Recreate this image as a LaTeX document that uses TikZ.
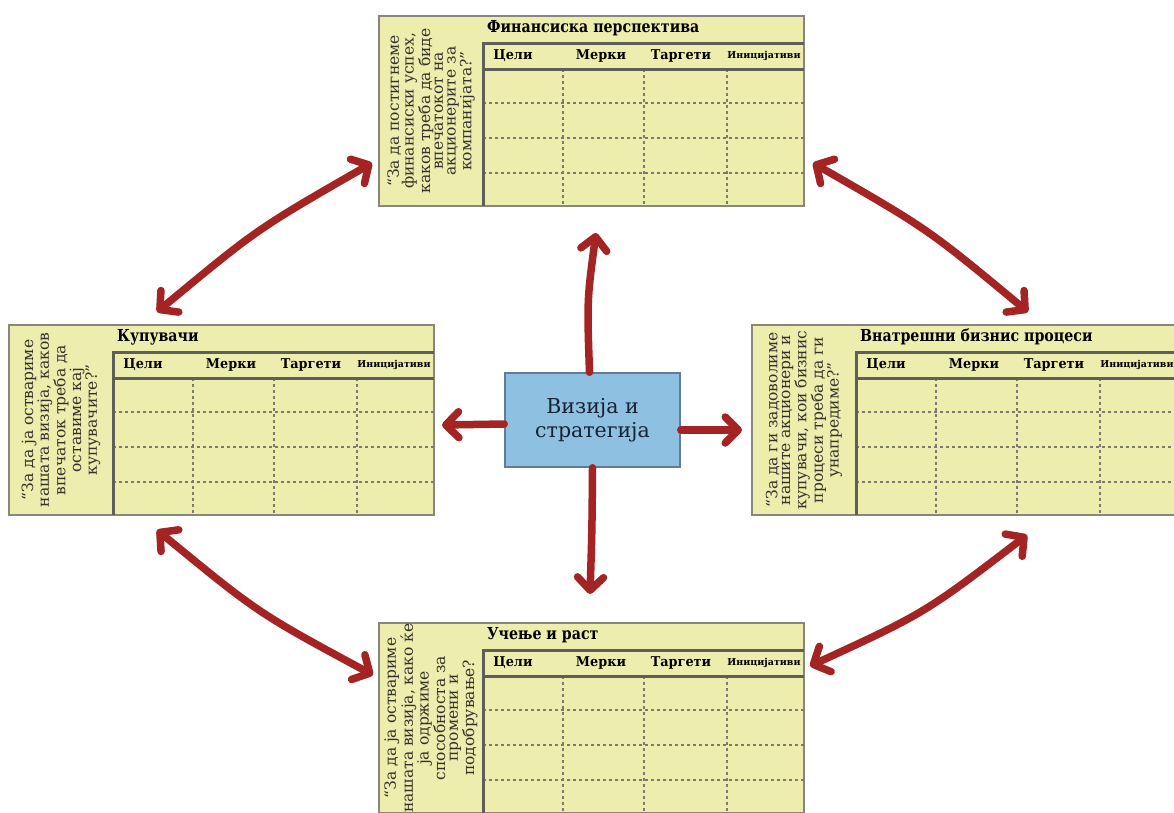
\documentclass[tikz,border=0pt]{standalone}
\usepackage{fontspec}
\setmainfont{DejaVu Serif}
\usetikzlibrary{arrows.meta}
\definecolor{boxfill}{RGB}{237,237,174}
\definecolor{boxedge}{RGB}{135,135,124}
\definecolor{tabedge}{RGB}{95,95,90}
\definecolor{dashgray}{RGB}{122,122,112}
\definecolor{questcol}{RGB}{50,50,44}
\definecolor{arrowred}{RGB}{163,36,34}
\definecolor{visfill}{RGB}{142,192,226}
\definecolor{visedge}{RGB}{96,124,150}
\definecolor{vistext}{RGB}{22,34,48}
\tikzset{
  pbox/.style={draw=boxedge, fill=boxfill, line width=2.5pt, minimum width=425pt, minimum height=190pt, inner sep=0pt, outer sep=0pt},
  tline/.style={draw=tabedge, line width=3pt},
  dline/.style={draw=dashgray, line width=2.6pt, dash pattern=on 3pt off 3pt},
  ptitle/.style={anchor=west, font=\bfseries\fontsize{16.5}{18}\selectfont, inner sep=0pt, xscale=0.86},
  hdr/.style={font=\bfseries\fontsize{13.5}{15}\selectfont, inner sep=0pt, xscale=0.95},
  hdrsmall/.style={font=\bfseries\fontsize{9.5}{11}\selectfont, inner sep=0pt},
  quest/.style={rotate=90, align=center, font=\fontsize{15.5}{12.7}\selectfont, text=questcol, inner sep=0pt},
  vis/.style={draw=visedge, fill=visfill, line width=1.5pt, minimum width=175pt, minimum height=94pt, align=center, text=vistext, font=\fontsize{20.5}{24}\selectfont},
  twoway/.style={draw=arrowred, line width=7.5pt, line cap=round, {Straight Barb[length=13pt,width=28pt,round]}-{Straight Barb[length=13pt,width=28pt,round]}},
  oneway/.style={draw=arrowred, line width=7.5pt, line cap=round, -{Straight Barb[length=13pt,width=26pt,round]}}
}
\newcommand{\perspbox}[5]{%
  \begin{scope}[shift={(#2,#3)}]
    \node[pbox] (#1) at (212.5,95) {};
    \foreach \yy in {87,122,157} \draw[dline] (104,\yy) -- (425,\yy);
    \foreach \xx in {184,265,348} \draw[dline] (\xx,53) -- (\xx,190);
    \draw[tline] (104,190) -- (104,27) -- (425,27);
    \draw[tline] (104,53) -- (425,53);
    \node[ptitle] (#1-t) at (108,12) {#4};
    \node[hdr] (#1-h1) at (134,40) {Цели};
    \node[hdr] (#1-h2) at (222,40) {Мерки};
    \node[hdr] (#1-h3) at (302,40) {Таргети};
    \node[hdrsmall] (#1-h4) at (385,40) {Иницијативи};
    \node[quest] (#1-q) at (52,95) {#5};
  \end{scope}}
\begin{document}
\begin{tikzpicture}[x=1pt,y=-1pt]
  \useasboundingbox (0,0) rectangle (1174,812);
  \fill[white] (0,0) rectangle (1174,812);
  \clip (0,0) rectangle (1174,812);

  \perspbox{fin}{379}{16}{Финансиска перспектива}{“За да постигнеме\\финансиски успех,\\каков треба да биде\\впечатокот на\\акционерите за\\компанијата?”}
  \perspbox{cust}{9}{325}{Купувачи}{“За да ја оствариме\\нашата визија, каков\\впечаток треба да\\оставиме кај\\купувачите?”}
  \perspbox{proc}{752}{325}{Внатрешни бизнис процеси}{“За да ги задоволиме\\нашите акционери и\\купувачи, кои бизнис\\процеси треба да ги\\унапредиме?”}
  \perspbox{learn}{379}{623}{Учење и раст}{“За да ја оствариме\\нашата визија, како ќе\\ја одржиме\\способноста за\\промени и\\подобрување?}

  \node[vis] (vis) at (592.5,420) {Визија и\\стратегија};

  % free ends of the connectors
  \coordinate (tlA) at (157,312);
  \coordinate (tlB) at (372,163);
  \coordinate (trA) at (813,163);
  \coordinate (trB) at (1028,312);
  \coordinate (brA) at (1027,535);
  \coordinate (brB) at (810,666);
  \coordinate (blA) at (373,675);
  \coordinate (blB) at (157,530);
  \coordinate (upTip) at (596,233);
  \coordinate (downTip) at (590,594);
  \coordinate (leftTip) at (442,425);
  \coordinate (rightTip) at (742,430);

  \draw[twoway] (tlA) .. controls (257,229) .. (tlB);
  \draw[twoway] (trA) .. controls (928,229) .. (trB);
  \draw[twoway] (brA) .. controls (925,613) .. (brB);
  \draw[twoway] (blA) .. controls (258,613) .. (blB);

  \draw[oneway] ([xshift=-3pt]vis.north) .. controls (587,300) .. (upTip);
  \draw[oneway] (vis.south) .. controls (592,530) .. (downTip);
  \draw[oneway] ([yshift=-4pt]vis.west) -- (leftTip);
  \draw[oneway] ([yshift=-10pt]vis.east) -- (rightTip);
\end{tikzpicture}
\end{document}
